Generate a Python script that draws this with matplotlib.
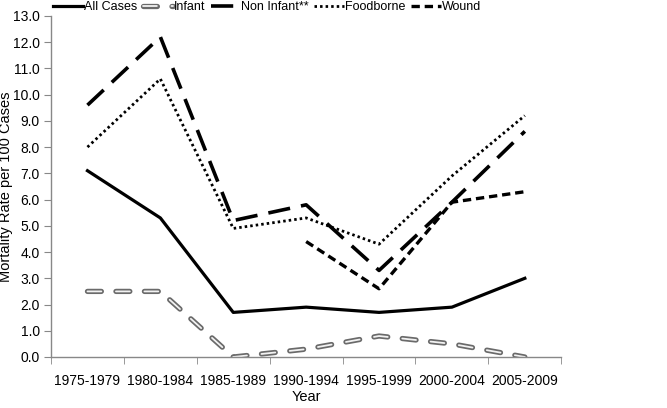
import numpy as np
import matplotlib.pyplot as plt

plt.rcParams['font.family'] = ['Liberation Sans', 'DejaVu Sans']
plt.rcParams['lines.scale_dashes'] = False

# Data
periods = ['1975-1979', '1980-1984', '1985-1989', '1990-1994', '1995-1999', '2000-2004', '2005-2009']
all_cases = [7.1, 5.3, 1.7, 1.9, 1.7, 1.9, 3.0]
infant = [2.5, 2.5, 0.0, 0.3, 0.8, 0.5, 0.0]
non_infant = [9.6, 12.2, 5.2, 5.8, 3.3, 5.9, 8.6]
foodborne = [8.0, 10.6, 4.9, 5.3, 4.3, 6.9, 9.2]
wound = [np.nan, np.nan, np.nan, 4.4, 2.6, 5.9, 6.3]
y_ticks = np.arange(0, 13.1, 1.0)

fig = plt.figure(figsize=(6.67, 4.08), dpi=100)
ax = fig.add_axes([0.0765, 0.125, 0.765, 0.836])

x = np.arange(len(periods))

h_all, = ax.plot(x, all_cases, color='black', lw=2.3)
# infant: gray outlined dashes with a light centre
h_inf1, = ax.plot(x, infant, color='#6a6a6a', lw=3.8, dashes=(10, 10.5), dash_capstyle='round')
h_inf2, = ax.plot(x, infant, color='#f2f2f2', lw=1.3, dashes=(10, 10.5), dash_capstyle='round')
h_non, = ax.plot(x, non_infant, color='black', lw=2.6, dashes=(16, 8))
h_food, = ax.plot(x, foodborne, color='black', lw=2.0, dashes=(1.8, 2.2))
h_wnd, = ax.plot(x, wound, color='black', lw=2.4, dashes=(6, 3.5))

ax.set_xlim(-0.5, len(periods) - 0.5)
ax.set_ylim(0, 13)
ax.set_yticks(y_ticks)
ax.set_yticklabels([f'{v:.1f}' for v in y_ticks], fontsize=10)
ax.set_xticks(x)
ax.set_xticklabels(periods, fontsize=10)
ax.set_xticks(np.arange(len(periods) + 1) - 0.5, minor=True)
ax.tick_params(axis='x', which='major', length=0, pad=12)
ax.tick_params(axis='x', which='minor', length=5, color='#888888', direction='out')
ax.tick_params(axis='y', length=5, color='#888888', direction='out', pad=3)

for side in ['top', 'right']:
    ax.spines[side].set_visible(False)
for side in ['left', 'bottom']:
    ax.spines[side].set_color('#888888')
    ax.spines[side].set_linewidth(1.0)

ax.set_xlabel('Year', fontsize=10.5, labelpad=2)
ax.set_ylabel('Mortality Rate per 100 Cases', fontsize=10.5, labelpad=0)

fig.legend([h_all, (h_inf1, h_inf2), h_non, h_food, h_wnd],
           ['All Cases', 'Infant', 'Non Infant**', 'Foodborne', 'Wound'],
           loc='upper left', bbox_to_anchor=(0.078, 1.0), ncol=5, frameon=False,
           fontsize=9, handlelength=2.4, handletextpad=0.05, columnspacing=0.45,
           borderpad=0.1, borderaxespad=0.0)

fig.savefig('out.png', dpi=100)
